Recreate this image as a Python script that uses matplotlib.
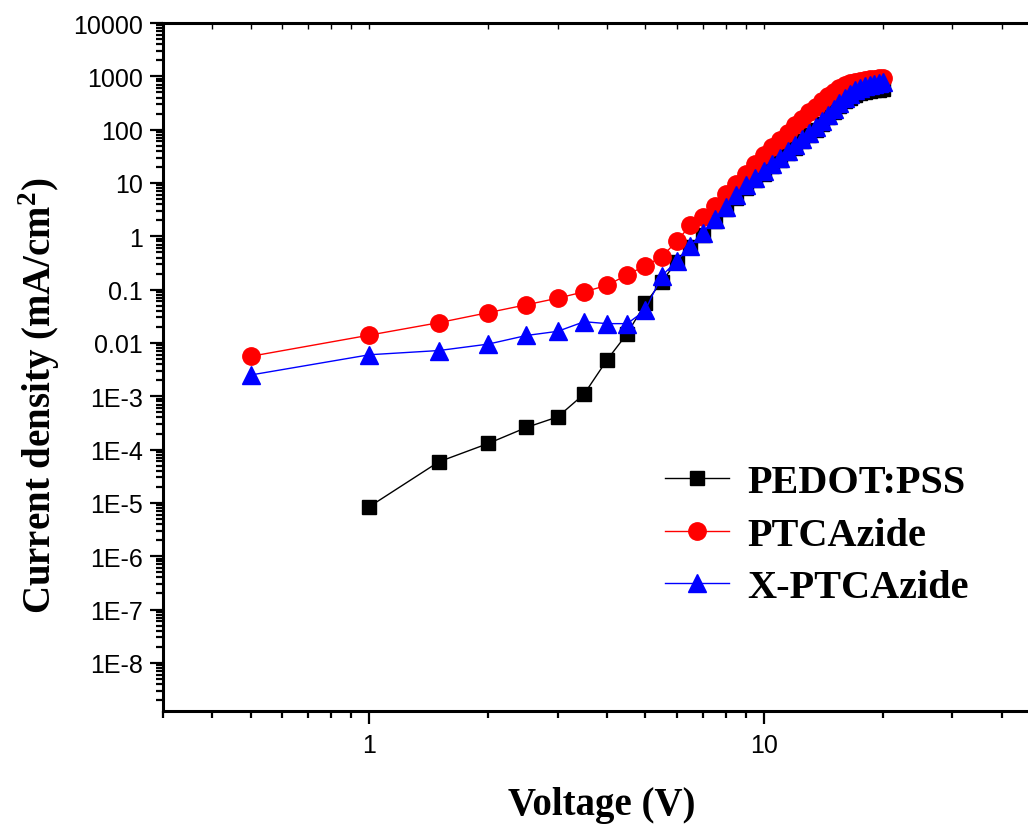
import numpy as np
import matplotlib
matplotlib.use('Agg')
from matplotlib import pyplot as plt
from matplotlib.ticker import FixedLocator, LogLocator, NullFormatter, FuncFormatter

plt.rcParams['mathtext.fontset'] = 'custom'
plt.rcParams['mathtext.rm'] = 'Liberation Serif:bold'
plt.rcParams['mathtext.bf'] = 'Liberation Serif:bold'

# voltage steps (V)
v_pedot = [1.0, 1.5, 2.0, 2.5, 3.0, 3.5, 4.0, 4.5, 5.0, 5.5, 6.0, 6.5, 7.0, 7.5, 8.0,
           8.5, 9.0, 9.5, 10.0, 10.5, 11.0, 11.5, 12.0, 12.5, 13.0, 13.5, 14.0, 14.5,
           15.0, 15.5, 16.0, 16.5, 17.0, 17.5, 18.0, 18.5, 19.0, 19.5, 20.0]
v_ptc = [0.5, 1.0, 1.5, 2.0, 2.5, 3.0, 3.5, 4.0, 4.5, 5.0, 5.5, 6.0, 6.5, 7.0, 7.5, 8.0,
         8.5, 9.0, 9.5, 10.0, 10.5, 11.0, 11.5, 12.0, 12.5, 13.0, 13.5, 14.0, 14.5,
         15.0, 15.5, 16.0, 16.5, 17.0, 17.5, 18.0, 18.5, 19.0, 19.5, 20.0]
v_xptc = v_ptc

# current density (mA/cm2)
j_pedot = [8.5e-6, 5.9e-5, 1.3e-4, 2.6e-4, 4.1e-4, 1.1e-3, 4.8e-3, 0.015, 0.055, 0.14,
           0.33, 0.62, 1.05, 1.9, 3.3, 5.3, 8.0, 11.5, 15.0, 21, 27, 36, 46, 60, 78,
           100, 130, 170, 215, 275, 340, 400, 450, 490, 515, 535, 550, 560, 570]
j_ptc = [0.0056, 0.014, 0.024, 0.037, 0.052, 0.069, 0.091, 0.12, 0.19, 0.28, 0.41, 0.8,
         1.6, 2.3, 3.7, 6.2, 9.7, 15, 23, 34, 47, 65, 88, 120, 160, 210, 270, 340,
         420, 510, 600, 680, 740, 790, 830, 860, 880, 900, 920, 930]
j_xptc = [0.0025, 0.006, 0.0072, 0.0095, 0.0138, 0.0165, 0.025, 0.023, 0.023, 0.041,
          0.18, 0.34, 0.65, 1.15, 2.1, 3.6, 5.9, 9.0, 12.5, 17, 23, 30, 40, 52, 67, 87,
          112, 145, 190, 240, 310, 390, 470, 550, 610, 660, 700, 730, 760, 780]

labels = ['PEDOT:PSS', 'PTCAzide', 'X-PTCAzide']

fig = plt.figure(figsize=(10.28, 8.29), dpi=100)
ax = fig.add_axes([163/1028, 1-712/829, 877/1028, 688/829])

ax.plot(v_pedot, j_pedot, color='black', lw=1.0, marker='s', ms=10, mec='black', label=labels[0])
ax.plot(v_ptc, j_ptc, color='red', lw=1.0, marker='o', ms=12.5, mec='red', label=labels[1])
ax.plot(v_xptc, j_xptc, color='blue', lw=1.0, marker='^', ms=13, mec='blue', label=labels[2])

ax.set_xscale('log')
ax.set_yscale('log')
ax.set_xlim(0.3, 50)
ax.set_ylim(1.25e-9, 1e4)

ax.xaxis.set_major_locator(FixedLocator([1, 10]))
ax.xaxis.set_minor_locator(LogLocator(base=10, subs=np.arange(2, 10)))
ax.xaxis.set_major_formatter(FuncFormatter(lambda v, p: '%d' % v))
ax.xaxis.set_minor_formatter(NullFormatter())

yt = [10.0**k for k in range(-8, 5)]
def ylab(v, p):
    k = int(round(np.log10(v)))
    if k >= 0:
        return '%d' % (10**k)
    if k >= -2:
        return ('%.' + str(-k) + 'f') % v
    return '1E%d' % k
ax.yaxis.set_major_locator(FixedLocator(yt))
ax.yaxis.set_minor_locator(LogLocator(base=10, subs=np.arange(2, 10), numticks=30))
ax.yaxis.set_major_formatter(FuncFormatter(ylab))
ax.yaxis.set_minor_formatter(NullFormatter())

for s in ax.spines.values():
    s.set_linewidth(2.2)
ax.spines['right'].set_visible(False)

ax.tick_params(which='both', direction='out', width=1.6, labelsize=18,
               labelfontfamily='Liberation Sans', right=False)
ax.tick_params(which='major', length=9.5)
ax.tick_params(which='minor', length=5)
ax.tick_params(axis='x', which='both', top=True, labeltop=False)
ax.tick_params(axis='y', pad=5)
ax.tick_params(axis='x', pad=6)
# tiny inward marks on the top spine
for t in ax.xaxis.get_major_ticks() + ax.xaxis.get_minor_ticks():
    t.tick2line.set_marker(3)
    t.tick2line.set_markersize(4)
    t.tick2line.set_markeredgewidth(1.0)

ax.set_xlabel('Voltage (V)', fontsize=28, fontweight='bold', family='Liberation Serif', labelpad=21)
ax.set_ylabel('Current density (mA/cm$^{2}$)', fontsize=28, fontweight='bold',
              family='Liberation Serif')
ax.yaxis.set_label_coords(-0.115, 0.46)

leg = ax.legend(loc='upper left', bbox_to_anchor=(665/1028, 1-465/829),
                bbox_transform=fig.transFigure, frameon=False, borderpad=0,
                borderaxespad=0, handlelength=1.6, handletextpad=0.45,
                labelspacing=0.38, prop={'family': 'Liberation Serif', 'weight': 'bold', 'size': 29})

fig.savefig('out.png', dpi=100)
